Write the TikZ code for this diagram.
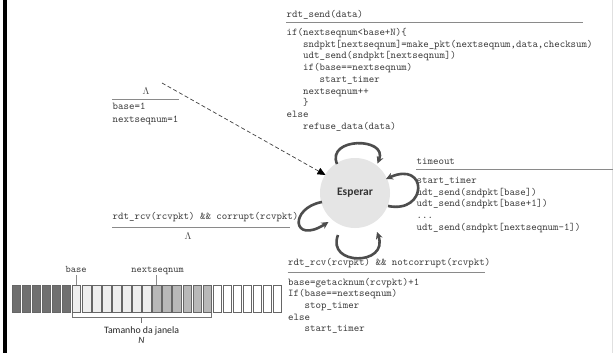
\documentclass[tikz,border=0pt]{standalone}
\usepackage{fontspec}
\newfontfamily\carl{Carlito}
\usetikzlibrary{arrows.meta}
\definecolor{txt}{HTML}{3A3A3A}
\definecolor{loopc}{HTML}{4D4D4D}
\definecolor{rulec}{HTML}{8A8A8A}
\definecolor{pdark}{HTML}{707070}
\definecolor{plight}{HTML}{EEEEEE}
\definecolor{pmed}{HTML}{B8B8B8}
\tikzset{
  code/.style={font=\ttfamily\fontsize{10.4}{11}\selectfont, text=txt, inner sep=0pt, anchor=base west},
  sep/.style={draw=rulec, line width=1.2pt},
  selfloop/.style={draw=loopc, line width=2.6pt, -{Stealth[length=7pt,width=7pt]}},
  pkt/.style={draw=black!60, line width=0.5pt, minimum width=8.3pt, minimum height=27pt, inner sep=0pt, anchor=north west},
}
\newcommand\cl[4]{\node[code] (#1) at (#2,#3) {#4};}
\begin{document}
\begin{tikzpicture}[x=1pt,y=-1pt]
\useasboundingbox (0,0) rectangle (613,353);
\fill[white] (0,0) rectangle (613,353);
\fill[black] (3,0) rectangle (7,353);
\draw[black!12, line width=0.8pt] (612.5,0) -- (612.5,353);

% state
\node[circle, fill=black!10, minimum size=70pt, inner sep=0pt, font=\carl\bfseries\fontsize{11.5}{12}\selectfont, text=black!80] (esp) at (355,193) {Esperar};

% rdt_send block
\cl{s0}{286.5}{18}{rdt\_send(data)}
\coordinate (s0a) at (286,22.5); \coordinate (s0b) at (583,22.5);
\draw[sep] (s0a) -- (s0b);
\cl{s1}{286.5}{35.5}{if(nextseqnum<base+N)\{}
\cl{s2}{303}{47.3}{sndpkt[nextseqnum]=make\_pkt(nextseqnum,data,checksum)}
\cl{s3}{303}{59}{udt\_send(sndpkt[nextseqnum])}
\cl{s4}{303}{70.7}{if(base==nextseqnum)}
\cl{s5}{319.5}{82.4}{start\_timer}
\cl{s6}{303}{94.1}{nextseqnum++}
\cl{s7}{303}{105.8}{\}}
\cl{s8}{286.5}{117.5}{else}
\cl{s9}{303}{129.2}{refuse\_data(data)}

% timeout block
\cl{t0}{416.5}{164.3}{timeout}
\coordinate (t0a) at (416,169.5); \coordinate (t0b) at (613,169.5);
\draw[sep] (t0a) -- (t0b);
\cl{t1}{416.5}{183.5}{start\_timer}
\cl{t2}{416.5}{195.2}{udt\_send(sndpkt[base])}
\cl{t3}{416.5}{206.9}{udt\_send(sndpkt[base+1])}
\cl{t4}{416.5}{218.6}{...}
\cl{t5}{416.5}{230.3}{udt\_send(sndpkt[nextseqnum-1])}

% init block
\node[code, anchor=base, text=black!70] (i0) at (146,94) {$\Lambda$};
\coordinate (i0a) at (112,99.5); \coordinate (i0b) at (179,99.5);
\draw[sep] (i0a) -- (i0b);
\cl{i1}{112.5}{110}{base=1}
\cl{i2}{112.5}{122}{nextseqnum=1}

% corrupt block
\cl{c0}{112.5}{219.3}{rdt\_rcv(rcvpkt) \&\& corrupt(rcvpkt)}
\coordinate (c0a) at (112,227.5); \coordinate (c0b) at (290,227.5);
\draw[sep] (c0a) -- (c0b);
\node[code, anchor=base, text=black!70] (c1) at (188,239.5) {$\Lambda$};

% notcorrupt block
\cl{n0}{288}{265.7}{rdt\_rcv(rcvpkt) \&\& notcorrupt(rcvpkt)}
\coordinate (n0a) at (287.5,272.5); \coordinate (n0b) at (485,272.5);
\draw[sep] (n0a) -- (n0b);
\cl{n1}{288}{285}{base=getacknum(rcvpkt)+1}
\cl{n2}{288}{296.7}{If(base==nextseqnum)}
\cl{n3}{304.5}{308.4}{stop\_timer}
\cl{n4}{288}{320}{else}
\cl{n5}{304.5}{331.7}{start\_timer}

% self loops
\coordinate (tl1) at (337,164); \coordinate (tl2) at (377.5,163.5);
\draw[selfloop] (tl1) .. controls (326,137) and (388,137) .. (tl2);
\coordinate (rl1) at (388,206); \coordinate (rl2) at (386,179);
\draw[selfloop] (rl1) .. controls (428,214) and (428,160) .. (rl2);
\coordinate (bl1) at (338,235); \coordinate (bl2) at (377,232);
\draw[selfloop] (bl1) .. controls (326,266) and (389,266) .. (bl2);
\coordinate (ll1) at (322,202); \coordinate (ll2) at (328.5,222);
\draw[selfloop] (ll1) .. controls (289,208) and (292,245) .. (ll2);

% initial dashed arrow
\coordinate (d0) at (162,83);
\draw[black!75, line width=0.7pt, dash pattern=on 4pt off 2.5pt, -{Triangle[length=8pt,width=7pt,black]}] (d0) -- (325.5,175);

% packets
\foreach \i in {0,...,26}{
  \ifnum\i<6 \def\pc{pdark}\else\ifnum\i<14 \def\pc{plight}\else\ifnum\i<20 \def\pc{pmed}\else\def\pc{white}\fi\fi\fi
  \node[pkt, fill=\pc] (p\i) at ({12+10.03*\i},285) {};
}
\node[code, anchor=base, font=\ttfamily\fontsize{10}{10}\selectfont] (lb) at (76,272.3) {base};
\node[code, anchor=base, font=\ttfamily\fontsize{10}{10}\selectfont] (ln) at (157.5,272.3) {nextseqnum};
\draw[black!45, line width=0.8pt] (p6.north) -- (p6.north |- 0,275);
\draw[black!45, line width=0.8pt] (p14.north) -- (p14.north |- 0,275);
\coordinate (br1) at (72.7,312.5); \coordinate (br2) at (211.5,312.5);
\draw[black!55, line width=0.8pt] (br1) -- ++(0,5) -| (br2);
\coordinate (bm) at (141.5,317.5);
\draw[black!55, line width=0.8pt] (bm) -- ++(0,5);
\node[font=\carl\fontsize{9.8}{10}\selectfont, text=black!85, inner sep=0pt, anchor=base] (tj) at (141.5,333.3) {Tamanho da janela};
\node[font=\carl\itshape\fontsize{9.5}{10}\selectfont, text=black!85, inner sep=0pt, anchor=base] (tn) at (141.5,343) {N};
\end{tikzpicture}
\end{document}
